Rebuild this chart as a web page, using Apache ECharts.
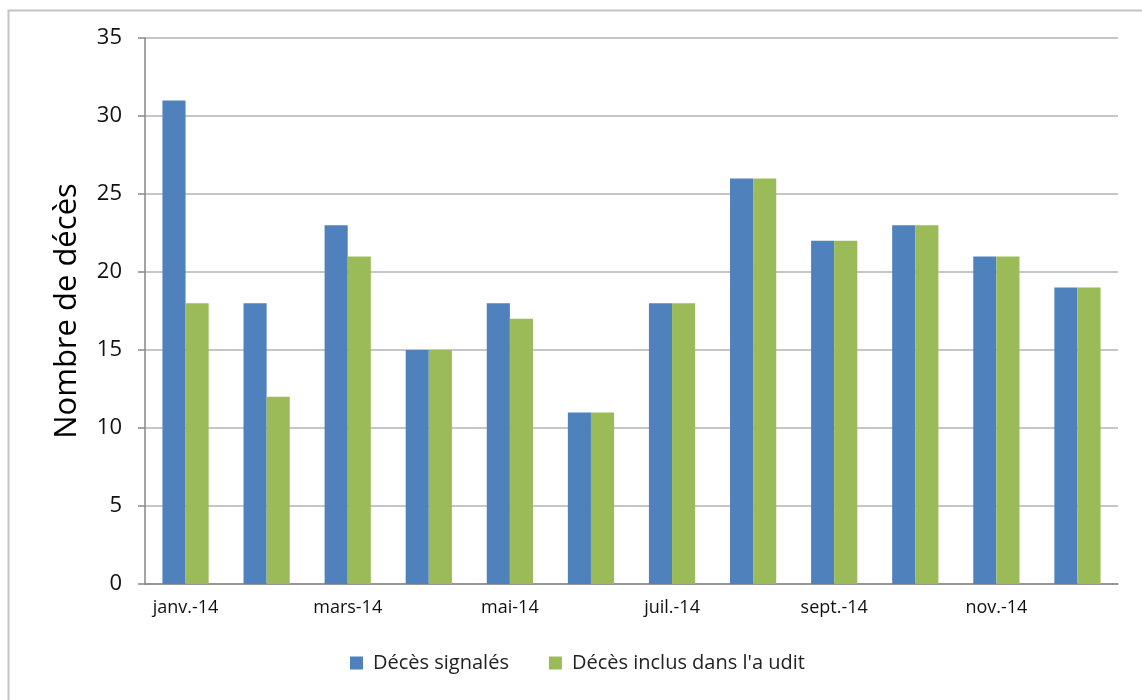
<!DOCTYPE html>
<html>
<head>
<meta charset="utf-8">
<script src="https://cdn.jsdelivr.net/npm/echarts@6/dist/echarts.min.js"></script>
<style>
  html, body { margin: 0; padding: 0; background: #fff; }
  #chart { width: 1142px; height: 700px; }
</style>
</head>
<body>
<div id="chart"></div>
<script>
// Monthly deaths, 2014
const months = ['janv.-14', 'févr.-14', 'mars-14', 'avr.-14', 'mai-14', 'juin-14',
                'juil.-14', 'août-14', 'sept.-14', 'oct.-14', 'nov.-14', 'déc.-14'];
const deathsReported = [31, 18, 23, 15, 18, 11, 18, 26, 22, 23, 21, 19];
const deathsAudited  = [18, 12, 21, 15, 17, 11, 18, 26, 22, 23, 21, 19];
const seriesNames = ['Décès signalés', "Décès inclus dans l'a udit"];
const yTitle = 'Nombre de décès';

const FONT = '"Open Sans", "Noto Sans", sans-serif';
const chart = echarts.init(document.getElementById('chart'));

chart.setOption({
  animation: false,
  textStyle: { fontFamily: FONT },
  graphic: [{
    type: 'rect',
    shape: { x: 8.5, y: 10.5, width: 1200, height: 800 },
    style: { fill: 'none', stroke: '#c4c4c4', lineWidth: 2 },
    silent: true
  }],
  grid: { left: 145, right: 24, top: 38, bottom: 116 },
  legend: {
    bottom: 22,
    left: 345,
    itemWidth: 13,
    itemHeight: 13,
    itemGap: 40,
    icon: 'rect',
    textStyle: { fontSize: 20, color: '#222', fontFamily: FONT, padding: [0, 0, 0, 5] },
    data: seriesNames
  },
  xAxis: {
    type: 'category',
    data: months,
    axisLine: { lineStyle: { color: '#868686', width: 1.5 } },
    axisTick: { interval: 1, length: 6, lineStyle: { color: '#868686', width: 1.5 } },
    axisLabel: { interval: 1, fontSize: 18, color: '#111', margin: 15, fontFamily: FONT }
  },
  yAxis: {
    type: 'value',
    min: 0, max: 35, interval: 5,
    name: yTitle,
    nameLocation: 'middle',
    nameGap: 62,
    nameTextStyle: { fontSize: 31, color: '#000', fontFamily: FONT },
    axisLine: { show: true, lineStyle: { color: '#868686', width: 1.5 } },
    axisTick: { show: true, length: 7, lineStyle: { color: '#868686', width: 1.5 } },
    axisLabel: { fontSize: 22, color: '#111', margin: 23, fontFamily: FONT },
    splitLine: { lineStyle: { color: '#b3b3b3', width: 1.5 } }
  },
  series: [
    {
      name: seriesNames[0], type: 'bar', data: deathsReported,
      itemStyle: { color: '#4f81bd' },
      barGap: '0%', barCategoryGap: '43%'
    },
    {
      name: seriesNames[1], type: 'bar', data: deathsAudited,
      itemStyle: { color: '#9bbb59' },
      barGap: '0%', barCategoryGap: '43%'
    }
  ]
});
</script>
</body>
</html>
